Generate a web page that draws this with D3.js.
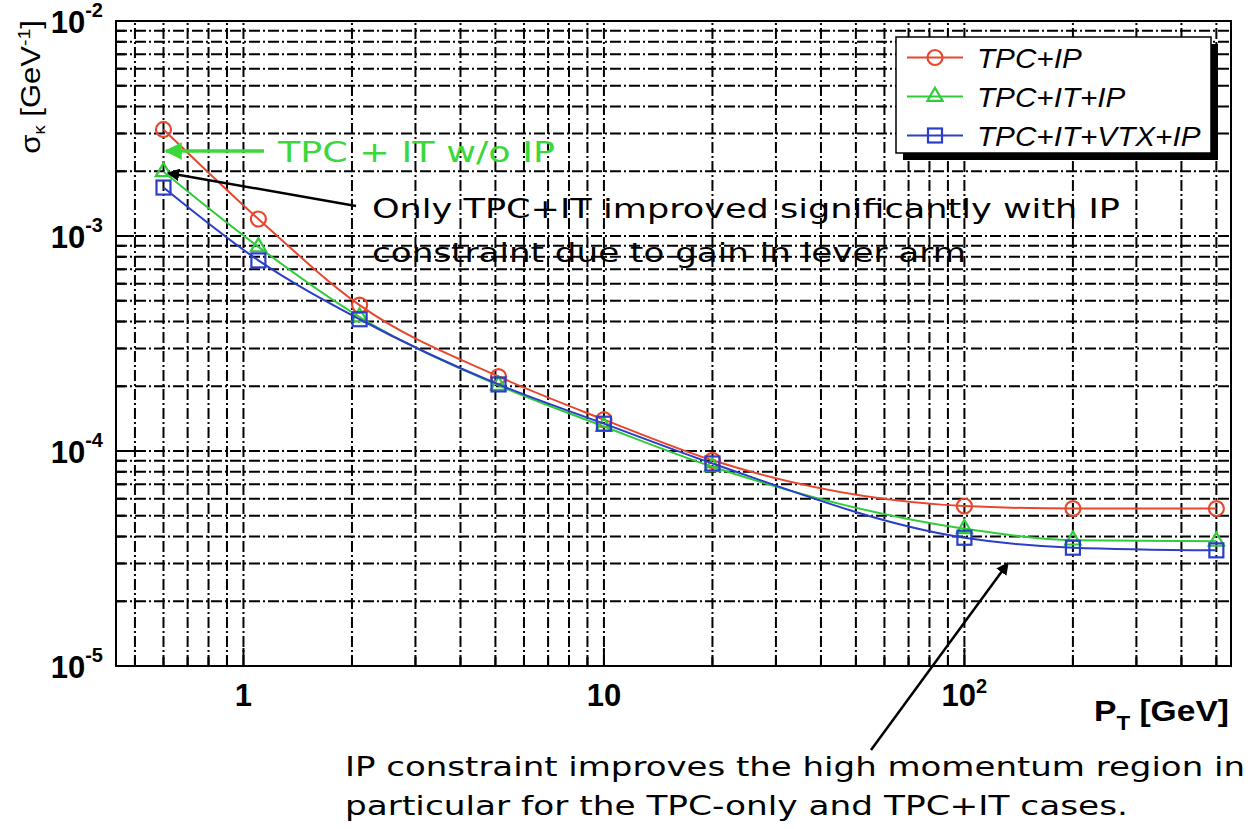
<!DOCTYPE html>
<html lang="en">
<head>
<meta charset="UTF-8" />
<title>sigma_k vs pT</title>
<style>
  body { margin: 0; background: #fff; overflow: hidden; }
  svg { display: block; }
  .lbl { font-family: "Liberation Sans", Arial, sans-serif; font-weight: bold; fill: #000; }
  .leg { font-family: "Liberation Sans", Arial, sans-serif; font-style: italic; fill: #000; }
  .note { font-family: "DejaVu Sans", sans-serif; }
</style>
</head>
<body>
<svg id="chart" width="1253" height="829"></svg>
<script src="https://d3js.org/d3.v7.min.js"></script>
<script>
// pT points [GeV]
const ptValues = [0.6, 1.1, 2.1, 5.1, 10, 20, 100, 200, 500];

// sigma_k [GeV^-1]
const tpcIP      = [3.13e-3, 1.20e-3, 4.77e-4, 2.22e-4, 1.40e-4, 9.05e-5, 5.55e-5, 5.40e-5, 5.40e-5];
const tpcItIP    = [1.99e-3, 8.90e-4, 4.20e-4, 2.02e-4, 1.30e-4, 8.45e-5, 4.35e-5, 3.85e-5, 3.80e-5];
const tpcItVtxIP = [1.68e-3, 7.70e-4, 4.10e-4, 2.04e-4, 1.34e-4, 8.75e-5, 3.95e-5, 3.55e-5, 3.45e-5];

const seriesNames  = ["TPC+IP", "TPC+IT+IP", "TPC+IT+VTX+IP"];
const seriesColors = ["#e8472e", "#2fcc3a", "#2b3ec8"];
const seriesMarks  = ["circle", "triangle", "square"];

const xTickValues = [1, 10, 100];
const xTickBase   = ["1", "10", "10"];
const xTickExp    = ["", "", "2"];
const yTickValues = [1e-5, 1e-4, 1e-3, 1e-2];
const yTickExp    = ["-5", "-4", "-3", "-2"];

const svg = d3.select("#chart");
const x = d3.scaleLog().domain([0.443, 549]).range([116, 1231]);
const y = d3.scaleLog().domain([1e-5, 1e-2]).range([666, 21]);

const [x0, x1] = x.range();
const [y0, y1] = y.range();

// grid (dash-dot, on every tick)
const grid = svg.append("g")
  .attr("stroke", "#000")
  .attr("stroke-width", 2)
  .attr("stroke-dasharray", "11,3,2,3");

grid.selectAll(".gx")
  .data(x.ticks().filter(d => x(d) > x0 + 1 && x(d) < x1 - 1))
  .join("line")
  .attr("x1", d => x(d)).attr("x2", d => x(d))
  .attr("y1", y0).attr("y2", y1);

grid.selectAll(".gy")
  .data(y.ticks().filter(d => y(d) < y0 - 1 && y(d) > y1 + 1))
  .join("line")
  .attr("y1", d => y(d)).attr("y2", d => y(d))
  .attr("x1", x0).attr("x2", x1);

// inward tick marks
const isMajor = d => Math.abs(Math.log10(d) - Math.round(Math.log10(d))) < 1e-6;
const ticks = svg.append("g").attr("stroke", "#000").attr("stroke-width", 2);
ticks.selectAll(".tx")
  .data(x.ticks())
  .join("line")
  .attr("x1", d => x(d)).attr("x2", d => x(d))
  .attr("y1", y0).attr("y2", d => y0 - (isMajor(d) ? 18 : 9));
ticks.selectAll(".ty")
  .data(y.ticks())
  .join("line")
  .attr("y1", d => y(d)).attr("y2", d => y(d))
  .attr("x1", x0).attr("x2", d => x0 + (isMajor(d) ? 18 : 9));

svg.append("rect")
  .attr("x", x0).attr("y", y1)
  .attr("width", x1 - x0).attr("height", y0 - y1)
  .attr("fill", "none").attr("stroke", "#000").attr("stroke-width", 2);

// tick labels
const xl = svg.append("g").attr("class", "lbl");
xTickValues.forEach((v, i) => {
  const t = xl.append("text")
    .attr("x", x(v)).attr("y", 706)
    .attr("text-anchor", "middle")
    .attr("font-size", 31)
    .text(xTickBase[i]);
  if (xTickExp[i]) {
    t.append("tspan").attr("dy", -13).attr("font-size", 20).text(xTickExp[i]);
  }
});

const yl = svg.append("g").attr("class", "lbl");
yTickValues.forEach((v, i) => {
  const t = yl.append("text")
    .attr("x", 103).attr("y", y(v) + 12)
    .attr("text-anchor", "end")
    .attr("font-size", 31)
    .text("10");
  t.append("tspan").attr("dy", -16).attr("font-size", 20).text(yTickExp[i]);
});

// axis titles
const xt = svg.append("g").attr("transform", "translate(1229,721) scale(1.12,1)")
  .append("text").attr("class", "lbl").attr("text-anchor", "end").attr("font-size", 30);
xt.append("tspan").text("P");
xt.append("tspan").attr("font-size", 20).attr("dy", 9).text("T");
xt.append("tspan").attr("dy", -9).text(" [GeV]");

const yt = svg.append("g").attr("transform", "translate(40,20) rotate(-90) scale(1.15,1)")
  .append("text").attr("text-anchor", "end").attr("font-size", 27)
  .attr("font-family", "Liberation Sans, Arial, sans-serif");
yt.append("tspan").text("\u03c3");
yt.append("tspan").attr("font-size", 16).attr("dy", 5).text("\u03ba");
yt.append("tspan").attr("dy", -5).text(" [GeV");
yt.append("tspan").attr("font-size", 17).attr("dy", -10).text("-1");
yt.append("tspan").attr("dy", 10).text("]");

// series
const series = [tpcIP, tpcItIP, tpcItVtxIP];
const line = d3.line()
  .x((d, i) => x(ptValues[i]))
  .y(d => y(d))
  .curve(d3.curveMonotoneX);

function drawMarker(g, kind, cx, cy, color) {
  if (kind === "circle") {
    g.append("circle").attr("cx", cx).attr("cy", cy).attr("r", 7.5)
      .attr("fill", "none").attr("stroke", color).attr("stroke-width", 2.2);
  } else if (kind === "triangle") {
    g.append("path").attr("d", d3.symbol(d3.symbolTriangle, 100)())
      .attr("transform", `translate(${cx},${cy})`)
      .attr("fill", "none").attr("stroke", color).attr("stroke-width", 2.2);
  } else {
    g.append("rect").attr("x", cx - 7).attr("y", cy - 7)
      .attr("width", 14).attr("height", 14)
      .attr("fill", "none").attr("stroke", color).attr("stroke-width", 2.2);
  }
}

series.forEach((vals, s) => {
  const g = svg.append("g");
  g.append("path").datum(vals).attr("d", line)
    .attr("fill", "none").attr("stroke", seriesColors[s]).attr("stroke-width", 2);
  vals.forEach((v, i) => drawMarker(g, seriesMarks[s], x(ptValues[i]), y(v), seriesColors[s]));
});

// legend
const lg = svg.append("g");
lg.append("rect").attr("x", 903).attr("y", 44).attr("width", 315).attr("height", 116).attr("fill", "#000");
lg.append("rect").attr("x", 896).attr("y", 37).attr("width", 315).attr("height", 116)
  .attr("fill", "#fff").attr("stroke", "#000").attr("stroke-width", 1.5);
seriesNames.forEach((name, s) => {
  const ly = 57.5 + s * 39;
  lg.append("line").attr("x1", 907).attr("x2", 963).attr("y1", ly).attr("y2", ly)
    .attr("stroke", seriesColors[s]).attr("stroke-width", 2);
  drawMarker(lg, seriesMarks[s], 935, ly, seriesColors[s]);
  lg.append("g").attr("transform", `translate(977,${ly + 10}) scale(1.06,1)`)
    .append("text").attr("class", "leg").attr("font-size", 28).text(name);
});

// annotations
const defs = svg.append("defs");
function head(id, color) {
  defs.append("marker").attr("id", id)
    .attr("viewBox", "0 0 10 10").attr("refX", 9).attr("refY", 5)
    .attr("markerWidth", 5).attr("markerHeight", 5)
    .attr("markerUnits", "strokeWidth").attr("orient", "auto")
    .append("path").attr("d", "M0,0L10,5L0,10z").attr("fill", color);
}
head("ahG", "#3ad83a");
head("ahK", "#000");

svg.append("line").attr("x1", 264).attr("y1", 151).attr("x2", 166).attr("y2", 151)
  .attr("stroke", "#3ad83a").attr("stroke-width", 3.5).attr("marker-end", "url(#ahG)");
svg.append("text").attr("class", "note").attr("x", 278).attr("y", 162)
  .attr("font-size", 29).attr("fill", "#3ad83a")
  .attr("textLength", 277).attr("lengthAdjust", "spacingAndGlyphs")
  .text("TPC + IT w/o IP");

svg.append("line").attr("x1", 356).attr("y1", 206).attr("x2", 168).attr("y2", 173)
  .attr("stroke", "#000").attr("stroke-width", 2.5).attr("marker-end", "url(#ahK)");
svg.append("text").attr("class", "note").attr("x", 372).attr("y", 218)
  .attr("font-size", 26).attr("textLength", 748).attr("lengthAdjust", "spacingAndGlyphs")
  .text("Only TPC+IT improved significantly with IP");
svg.append("text").attr("class", "note").attr("x", 372).attr("y", 262)
  .attr("font-size", 26).attr("textLength", 594).attr("lengthAdjust", "spacingAndGlyphs")
  .text("constraint due to gain in lever arm");

svg.append("line").attr("x1", 871).attr("y1", 750).attr("x2", 1008).attr("y2", 563)
  .attr("stroke", "#000").attr("stroke-width", 2.5).attr("marker-end", "url(#ahK)");
svg.append("text").attr("class", "note").attr("x", 345).attr("y", 776)
  .attr("font-size", 26).attr("textLength", 900).attr("lengthAdjust", "spacingAndGlyphs")
  .text("IP constraint improves the high momentum region in");
svg.append("text").attr("class", "note").attr("x", 345).attr("y", 815)
  .attr("font-size", 26).attr("textLength", 783).attr("lengthAdjust", "spacingAndGlyphs")
  .text("particular for the TPC-only and TPC+IT cases.");
</script>
</body>
</html>
